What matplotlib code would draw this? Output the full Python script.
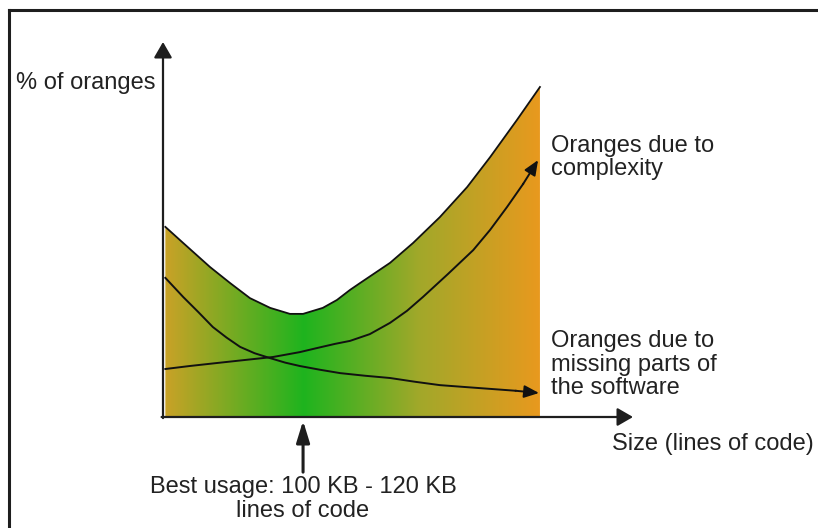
import matplotlib
matplotlib.use("Agg")
import matplotlib.pyplot as plt
import numpy as np
from matplotlib.colors import LinearSegmentedColormap
from matplotlib.lines import Line2D

plt.rcParams['font.family'] = ['Liberation Sans', 'DejaVu Sans']

# total oranges (upper envelope of the filled area)
size_total = [0.5, 4.3, 10, 14.3, 18.5, 22.8, 27, 29.8, 34, 37, 39.8, 41.9, 48.3, 53.2, 58.9, 64.7, 69.6, 75.3, 80.2]
pct_total = [50.7, 46.4, 40, 35.7, 31.7, 29.1, 27.5, 27.5, 29.1, 31.2, 33.9, 35.7, 41.1, 46.4, 53.3, 61.3, 69.3, 79.2, 88]

# oranges due to complexity
size_complex = [0.5, 5.7, 11.5, 17.4, 23.4, 29.1, 32.8, 36.6, 39.8, 44, 48.3, 51.9, 55.3, 60.6, 66, 69.6, 73.2, 76.6, 79.8]
pct_complex = [12.8, 13.6, 14.4, 15.2, 16, 17.3, 18.4, 19.5, 20.3, 22.1, 25.1, 28.3, 32, 38.1, 44.5, 49.9, 56, 62.1, 68.5]

# oranges due to missing parts
size_missing = [0.5, 4.3, 7.5, 10.6, 13.5, 16.4, 19.5, 22.8, 26, 29.1, 33.4, 37.7, 43, 48.3, 53.6, 58.9, 64.2, 69.6, 75, 80]
pct_missing = [37.1, 32, 28, 24, 21.2, 18.7, 17, 15.7, 14.5, 13.6, 12.6, 11.7, 11, 10.4, 9.4, 8.5, 8, 7.5, 7, 6.4]

# horizontal colour gradient of the fill
grad_colors = ['#C9A227', '#1EB41E', '#A2A82A', '#E8991E']
grad_stops = [0.0, 0.37, 0.68, 1.0]
best_size = 29.8

ink = '#1e1e1e'

fig = plt.figure(figsize=(8.18, 5.28), dpi=100)

# outer frame (only top and left edges are visible)
fig.add_artist(Line2D([9 / 818, 9 / 818], [0, 1 - 9.5 / 528], color=ink, lw=2.2))
fig.add_artist(Line2D([9 / 818, 1], [1 - 9.5 / 528, 1 - 9.5 / 528], color=ink, lw=2.2))

ax = fig.add_axes([163 / 818, 1 - 417 / 528, 470 / 818, 375 / 528])
ax.set_xlim(0, 100)
ax.set_ylim(0, 100)
ax.axis('off')

# gradient fill under the total curve
cmap = LinearSegmentedColormap.from_list('oranges', list(zip(grad_stops, grad_colors)))
grad = np.linspace(0, 1, 512).reshape(1, -1)
poly = ax.fill_between(size_total, 0, pct_total, color='none', lw=0)
im = ax.imshow(grad, cmap=cmap, aspect='auto', extent=[size_total[0], size_total[-1], 0, max(pct_total)],
               origin='lower', zorder=1)
im.set_clip_path(poly.get_paths()[0], transform=ax.transData)
ax.plot(size_total, pct_total, color='#111111', lw=1.3, zorder=3)

# the two component curves with arrow heads
for xs, ys in [(size_complex, pct_complex), (size_missing, pct_missing)]:
    ax.plot(xs[:-1], ys[:-1], color='#111111', lw=1.4, zorder=3, solid_joinstyle='round')
    ax.annotate('', xy=(xs[-1], ys[-1]), xytext=(xs[-2], ys[-2]),
                arrowprops=dict(arrowstyle='-|>,head_length=0.9,head_width=0.38',
                                color='#111111', lw=1.4, shrinkA=0, shrinkB=0), zorder=4)

# axes with arrows
ax.annotate('', xy=(0, 100), xytext=(0, -0.3), annotation_clip=False,
            arrowprops=dict(arrowstyle='-|>,head_length=0.95,head_width=0.55',
                            color=ink, lw=1.6, shrinkA=0, shrinkB=0), zorder=5)
ax.annotate('', xy=(100, 0), xytext=(-0.3, 0), annotation_clip=False,
            arrowprops=dict(arrowstyle='-|>,head_length=0.95,head_width=0.55',
                            color=ink, lw=1.6, shrinkA=0, shrinkB=0), zorder=5)

# best usage marker
ax.annotate('', xy=(best_size, -1), xytext=(best_size, -14.7), annotation_clip=False,
            arrowprops=dict(arrowstyle='-|>,head_length=1.3,head_width=0.4',
                            color=ink, lw=2.2, shrinkA=0, shrinkB=0), zorder=5)

fs = 17
tc = '#222222'
ls = 1.1
# va='baseline' puts the last line's baseline at y
ax.text(-1.5, 87.5, '% of oranges', ha='right', va='baseline', fontsize=fs, color=tc)
ax.text(82.5, 64.4, 'Oranges due to\ncomplexity', ha='left', va='baseline', fontsize=fs,
        color=tc, linespacing=ls)
ax.text(82.5, 6.0, 'Oranges due to\nmissing parts of\nthe software', ha='left', va='baseline',
        fontsize=fs, color=tc, linespacing=ls)
ax.text(95.5, -8.8, 'Size (lines of code)', ha='left', va='baseline', fontsize=fs, color=tc)
ax.text(best_size, -26.7, 'Best usage: 100 KB - 120 KB\nlines of code', ha='center', va='baseline',
        fontsize=fs, color=tc, linespacing=ls, multialignment='center')

fig.savefig('out.png', dpi=100)
